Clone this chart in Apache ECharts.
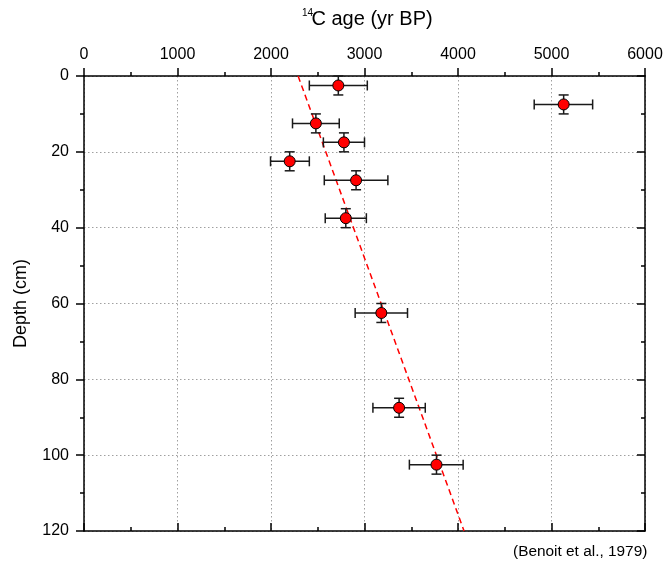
<!DOCTYPE html>
<html>
<head>
<meta charset="utf-8">
<script src="https://cdn.jsdelivr.net/npm/echarts@6/dist/echarts.min.js"></script>
<style>
html,body{margin:0;padding:0;background:#fff;}
#chart{width:666px;height:563px;}
</style>
</head>
<body>
<div id="chart"></div>
<script>
// 14C age (yr BP) and depth (cm) of dated samples
const ages      = [2720, 5130, 2480, 2780, 2200, 2910, 2800, 3180, 3370, 3770];
const ageLow    = [2410, 4815, 2230, 2560, 1995, 2570, 2580, 2900, 3090, 3480];
const ageHigh   = [3030, 5440, 2730, 3000, 2410, 3250, 3020, 3460, 3650, 4055];
const depths    = [2.5, 7.5, 12.5, 17.5, 22.5, 27.5, 37.5, 62.5, 87.5, 102.5];
const depthErr  = [2.5, 2.5, 2.5, 2.5, 2.5, 2.5, 2.5, 2.5, 2.5, 2.5];
// dashed fit line end points
const fitAges   = [2290, 4065];
const fitDepths = [0, 120];
// axis ticks
const xTicks = [0, 1000, 2000, 3000, 4000, 5000, 6000];
const yTicks = [0, 20, 40, 60, 80, 100, 120];

const FONT = '"Liberation Sans", Arial, sans-serif';
const chart = echarts.init(document.getElementById('chart'), null, {renderer: 'canvas'});

const pts = ages.map((a, i) => [a, depths[i]]);
const errData = ages.map((a, i) => [a, depths[i], ageLow[i], ageHigh[i], depths[i] - depthErr[i], depths[i] + depthErr[i]]);
const fitData = fitAges.map((a, i) => [a, fitDepths[i]]);

const gridLine = {show: true, lineStyle: {color: '#a0a0a0', type: [1.5, 2.5], width: 1}};
const plainFmt = v => String(v);

const option = {
  animation: false,
  backgroundColor: '#fff',
  graphic: [
    {type: 'text', left: 302, top: 8, style: {text: '14', font: '10px ' + FONT, fill: '#000'}},
    {type: 'text', left: 311.5, top: 9, style: {text: 'C age (yr BP)', font: '20px ' + FONT, fill: '#000'}},
    {type: 'text', left: 513, top: 544, style: {text: '(Benoit et al., 1979)', font: '15.4px ' + FONT, fill: '#000'}}
  ],
  grid: {left: 84, right: 21, top: 76, bottom: 32, containLabel: false},
  xAxis: [
    {
      type: 'value', position: 'top', min: 0, max: 6000, interval: 1000,
      axisLine: {show: true, onZero: false, lineStyle: {color: '#000', width: 1.5}},
      axisTick: {show: true, inside: false, length: 8, lineStyle: {color: '#000', width: 1.5}},
      minorTick: {show: true, splitNumber: 2, length: 4, lineStyle: {color: '#000', width: 1.5}},
      axisLabel: {show: true, margin: 13, fontSize: 16, fontFamily: FONT, color: '#000', formatter: plainFmt},
      splitLine: gridLine
    },
    {
      type: 'value', position: 'bottom', min: 0, max: 6000, interval: 1000,
      axisLine: {show: true, onZero: false, lineStyle: {color: '#000', width: 1.5}},
      axisTick: {show: true, inside: true, length: 8, lineStyle: {color: '#000', width: 1.5}},
      minorTick: {show: true, splitNumber: 2, length: 4, lineStyle: {color: '#000', width: 1.5}},
      axisLabel: {show: false},
      splitLine: {show: false}
    }
  ],
  yAxis: [
    {
      type: 'value', position: 'left', inverse: true, min: 0, max: 120, interval: 20,
      name: 'Depth (cm)', nameLocation: 'middle', nameGap: 54, nameRotate: 90,
      nameTextStyle: {fontSize: 18, fontFamily: FONT, color: '#000'},
      axisLine: {show: true, onZero: false, lineStyle: {color: '#000', width: 1.5}},
      axisTick: {show: true, inside: false, length: 8, lineStyle: {color: '#000', width: 1.5}},
      minorTick: {show: true, splitNumber: 2, length: 4, lineStyle: {color: '#000', width: 1.5}},
      axisLabel: {show: true, margin: 15, fontSize: 16, fontFamily: FONT, color: '#000', formatter: plainFmt},
      splitLine: gridLine
    },
    {
      type: 'value', position: 'right', inverse: true, min: 0, max: 120, interval: 20,
      axisLine: {show: true, onZero: false, lineStyle: {color: '#000', width: 1.5}},
      axisTick: {show: true, inside: true, length: 8, lineStyle: {color: '#000', width: 1.5}},
      minorTick: {show: true, splitNumber: 2, length: 4, lineStyle: {color: '#000', width: 1.5}},
      axisLabel: {show: false},
      splitLine: {show: false}
    }
  ],
  series: [
    {
      type: 'line', xAxisIndex: 0, yAxisIndex: 0, data: fitData, symbol: 'none',
      lineStyle: {color: '#ff0000', width: 1.5, type: [6, 4]}, z: 2, silent: true
    },
    {
      type: 'custom', xAxisIndex: 0, yAxisIndex: 0, data: errData, z: 3,
      renderItem: function (params, api) {
        const c = api.coord([api.value(0), api.value(1)]);
        const l = api.coord([api.value(2), api.value(1)]);
        const r = api.coord([api.value(3), api.value(1)]);
        const t = api.coord([api.value(0), api.value(4)]);
        const b = api.coord([api.value(0), api.value(5)]);
        const cap = 5;
        const st = {stroke: '#1a1a1a', lineWidth: 1.5};
        return {
          type: 'group',
          children: [
            {type: 'line', shape: {x1: l[0], y1: c[1], x2: r[0], y2: c[1]}, style: st},
            {type: 'line', shape: {x1: l[0], y1: c[1] - cap, x2: l[0], y2: c[1] + cap}, style: st},
            {type: 'line', shape: {x1: r[0], y1: c[1] - cap, x2: r[0], y2: c[1] + cap}, style: st},
            {type: 'line', shape: {x1: c[0], y1: t[1], x2: c[0], y2: b[1]}, style: st},
            {type: 'line', shape: {x1: c[0] - cap, y1: t[1], x2: c[0] + cap, y2: t[1]}, style: st},
            {type: 'line', shape: {x1: c[0] - cap, y1: b[1], x2: c[0] + cap, y2: b[1]}, style: st}
          ]
        };
      }
    },
    {
      type: 'scatter', xAxisIndex: 0, yAxisIndex: 0, data: pts, symbol: 'circle', symbolSize: 11, z: 4,
      itemStyle: {color: '#ff0000', borderColor: '#000', borderWidth: 1, opacity: 1}
    }
  ]
};
chart.setOption(option);
</script>
</body>
</html>
